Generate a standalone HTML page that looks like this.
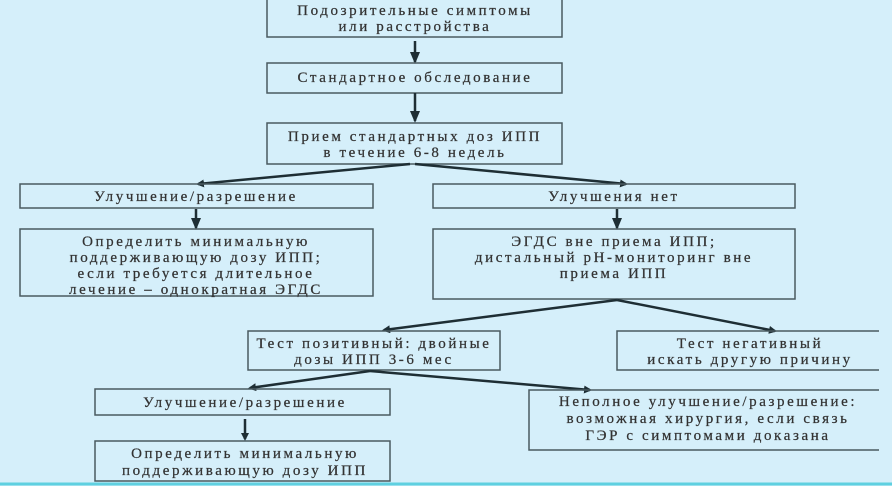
<!DOCTYPE html>
<html><head><meta charset="utf-8"><style>
html,body{margin:0;padding:0;background:#d5effa;}
svg{display:block}
text{font-family:"Liberation Serif","DejaVu Serif",serif;font-size:15px;fill:#333;letter-spacing:2.6px;text-anchor:middle;stroke:#333;stroke-width:0.25}
rect,.o{fill:none;stroke:#4a5a60;stroke-width:1.5}
line{stroke:#1e2e34;stroke-width:2.5}
</style></head><body>
<svg width="892" height="486" viewBox="0 0 892 486">
<defs><marker id="a" markerWidth="8" markerHeight="8" refX="6" refY="4" orient="auto" markerUnits="userSpaceOnUse"><path d="M0,0L8,4L0,8z" fill="#1e2e34"/></marker>
<marker id="b" markerWidth="12" markerHeight="10" refX="10" refY="5" orient="auto" markerUnits="userSpaceOnUse"><path d="M0,0L12,5L0,10z" fill="#1e2e34"/></marker></defs>
<line x1="0" y1="484" x2="892" y2="484" style="stroke:#5fd0e0;stroke-width:3"/>

<rect x="267" y="-2" width="295" height="39"/>
<text x="415" y="15">Подозрительные симптомы</text>
<text x="415" y="31">или расстройства</text>
<line x1="415" y1="41" x2="415" y2="62" marker-end="url(#b)"/>
<rect x="267" y="63" width="295" height="30"/>
<text x="415" y="82">Стандартное обследование</text>
<line x1="415" y1="93" x2="415" y2="121" marker-end="url(#b)"/>
<rect x="267" y="123" width="295" height="41"/>
<text x="415" y="141">Прием стандартных доз ИПП</text>
<text x="415" y="157">в течение 6-8 недель</text>
<line x1="410" y1="164" x2="198" y2="184" marker-end="url(#a)"/>
<line x1="415" y1="164" x2="626" y2="184" marker-end="url(#a)"/>

<rect x="20" y="184" width="353" height="24"/>
<text x="196" y="201">Улучшение/разрешение</text>
<rect x="433" y="184" width="362" height="24"/>
<text x="614" y="201">Улучшения нет</text>
<line x1="196" y1="209" x2="196" y2="228" marker-end="url(#b)"/>
<line x1="617" y1="209" x2="617" y2="228" marker-end="url(#b)"/>
<rect x="20" y="229" width="353" height="67"/>
<text x="196" y="246">Определить минимальную</text>
<text x="196" y="262">поддерживающую дозу ИПП;</text>
<text x="196" y="278">если требуется длительное</text>
<text x="196" y="294">лечение – однократная ЭГДС</text>
<rect x="433" y="229" width="362" height="70"/>
<text x="614" y="246">ЭГДС вне приема ИПП;</text>
<text x="614" y="262">дистальный pH-мониторинг вне</text>
<text x="614" y="278">приема ИПП</text>
<line x1="617" y1="300" x2="384" y2="330" marker-end="url(#a)"/>
<line x1="617" y1="300" x2="775" y2="331" marker-end="url(#a)"/>

<rect x="248" y="331" width="252" height="39"/>
<text x="374" y="348">Тест позитивный: двойные</text>
<text x="374" y="364">дозы ИПП 3-6 мес</text>
<path class="o" d="M879,331H617V370H879"/>
<text x="750" y="348">Тест негативный</text>
<text x="750" y="364">искать другую причину</text>
<line x1="370" y1="371" x2="250" y2="388" marker-end="url(#a)"/>
<line x1="370" y1="371" x2="590" y2="390" marker-end="url(#a)"/>

<rect x="95" y="389" width="295" height="26"/>
<text x="245" y="407">Улучшение/разрешение</text>
<path class="o" d="M879,390H529V450H879"/>
<text x="708" y="406">Неполное улучшение/разрешение:</text>
<text x="708" y="423">возможная хирургия, если связь</text>
<text x="708" y="440">ГЭР с симптомами доказана</text>
<line x1="245" y1="419" x2="245" y2="439" marker-end="url(#a)"/>
<rect x="95" y="441" width="295" height="40"/>
<text x="245" y="458">Определить минимальную</text>
<text x="245" y="475">поддерживающую дозу ИПП</text>
</svg>
</body></html>
